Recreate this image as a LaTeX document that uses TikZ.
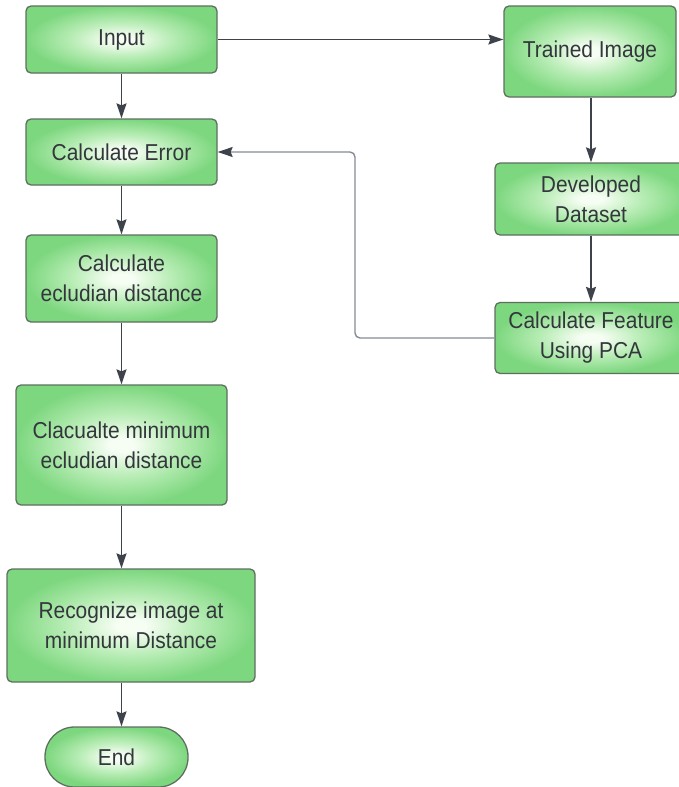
\documentclass[tikz,border=0pt]{standalone}
\usepackage{fontspec}
\setmainfont{Liberation Sans}[FakeStretch=0.91]
\usetikzlibrary{arrows.meta}
\definecolor{glowedge}{HTML}{7DD77F}
\definecolor{glowmid}{HTML}{B9EDB6}
\definecolor{glowin}{HTML}{F6FDF3}
\definecolor{boxline}{HTML}{5E6F60}
\definecolor{inktext}{HTML}{33373C}
\definecolor{arrowink}{HTML}{3E434B}
\definecolor{backink}{HTML}{868B93}
\pgfdeclareradialshading{boxglow}{\pgfpoint{0bp}{0bp}}{%
  color(0bp)=(glowin); color(3bp)=(glowin); color(13bp)=(glowmid); color(25bp)=(glowedge); color(50bp)=(glowedge)}
\tikzset{
  stepbox/.style={draw=boxline, line width=1.3pt, rounded corners=5pt,
    shading=boxglow, align=center, inner sep=0pt, text=inktext,
    font=\fontsize{23}{30}\selectfont},
  flow/.style={draw=arrowink, line width=1.4pt,
    -{Stealth[length=15pt,width=10pt,inset=2pt]}},
  backflow/.style={draw=backink, line width=1.4pt, rounded corners=5pt,
    -{Stealth[length=15pt,width=10pt,inset=2pt,color=arrowink]}}
}
\begin{document}
\begin{tikzpicture}[x=1pt,y=-1pt]
  \useasboundingbox (0,0) rectangle (679,787);
  \clip (0,0) rectangle (679,787);

  % left column
  \node[stepbox, minimum width=191pt, minimum height=67pt]  (input) at (121.5,39.5) {Input};
  \node[stepbox, minimum width=191pt, minimum height=66pt]  (err)   at (121.5,152)  {Calculate Error};
  \node[stepbox, minimum width=191pt, minimum height=87pt]  (ecl)   at (121.5,278.5) {Calculate\\ecludian distance};
  \node[stepbox, minimum width=211pt, minimum height=120pt] (minim) at (121.5,445)  {Clacualte minimum\\ecludian distance};
  \node[stepbox, minimum width=248pt, minimum height=113pt] (recog) at (131,625.5)  {Recognize image at\\minimum Distance};
  \node[stepbox, rounded corners=29.5pt, minimum width=143pt, minimum height=60pt] (finish) at (116.5,757) {End};

  % right column
  \node[stepbox, minimum width=172pt, minimum height=91pt] (trained) at (590,51.5) {Trained Image};
  \node[stepbox, minimum width=192pt, minimum height=72pt] (dev)     at (591,199)  {Developed\\Dataset};
  \node[stepbox, minimum width=192pt, minimum height=71pt] (feat)    at (591,338)  {Calculate Feature\\Using PCA};

  % routing helpers
  \coordinate (colx) at (121.5,0);
  \coordinate (fbk) at (355,152);

  % connectors
  \draw[flow] (input.east) -- (input.east -| trained.west);
  \draw[flow] (input.south) -- (err.north);
  \draw[flow] (err.south) -- (ecl.north);
  \draw[flow] (ecl.south) -- (minim.north);
  \draw[flow] (minim.south) -- (minim.south |- recog.north);
  \draw[flow] (recog.south -| colx) -- (finish.north -| colx);
  \draw[flow] (trained.south -| dev.north) -- (dev.north);
  \draw[flow] (dev.south) -- (feat.north);
  \draw[backflow] (feat.west) -| (fbk) -- (err.east);
\end{tikzpicture}
\end{document}
